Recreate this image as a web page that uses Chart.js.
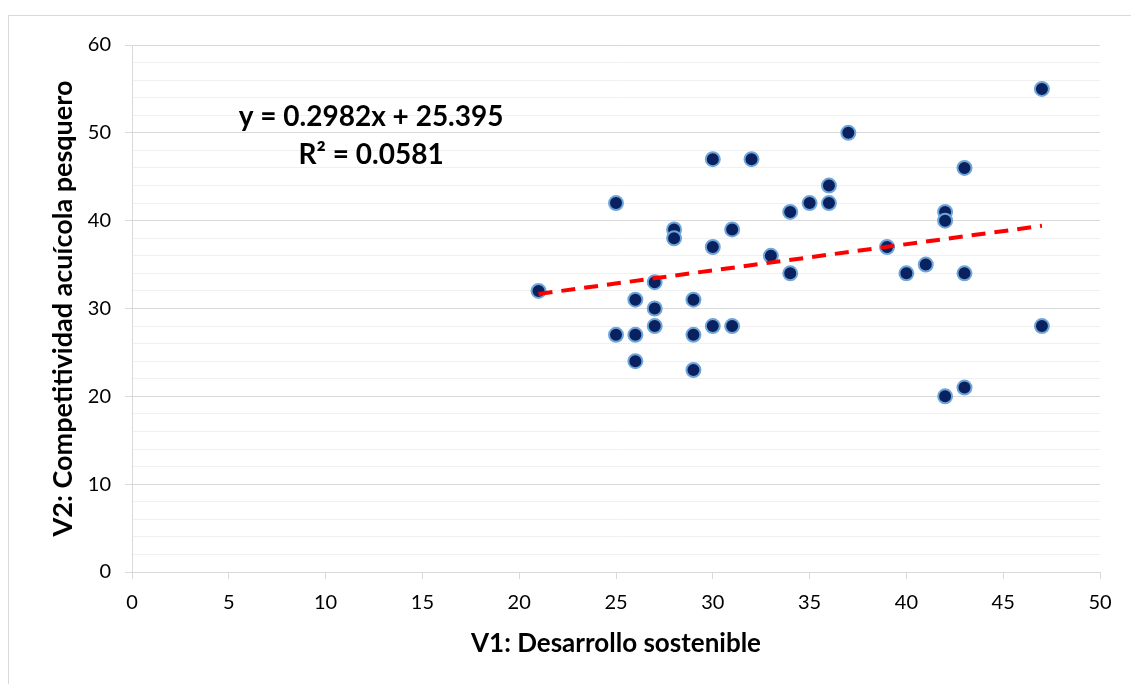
<!DOCTYPE html>
<html>
<head>
<meta charset="utf-8">
<script src="https://cdn.jsdelivr.net/npm/chart.js@4/dist/chart.umd.min.js"></script>
<style>
html,body{margin:0;padding:0;background:#fff;}
#wrap{width:1131px;height:684px;position:relative;}
</style>
</head>
<body>
<div id="wrap"><canvas id="c" width="1131" height="684"></canvas></div>
<script>
// Data
const v1 = [21,25,25,26,26,26,27,27,27,28,28,29,29,29,30,30,30,31,31,32,33,34,34,35,36,36,37,39,40,41,42,42,42,43,43,43,47,47];
const v2 = [32,42,27,31,27,24,33,30,28,39,38,31,27,23,47,37,28,39,28,47,36,41,34,42,44,42,50,37,34,35,41,40,20,46,34,21,55,28];
const trendSlope = [0.2982];
const trendIntercept = [25.395];
const trendRange = [21, 47];
const equationLines = ['y = 0.2982x + 25.395', 'R² = 0.0581'];
const xTitle = 'V1: Desarrollo sostenible';
const yTitle = 'V2: Competitividad acuícola pesquero';

const FONT = 'Lato, "Open Sans", "DejaVu Sans", sans-serif';

const points = v1.map((x, i) => ({x: x, y: v2[i]}));
const trend = trendRange.map(x => ({x: x, y: trendSlope[0] * x + trendIntercept[0]}));

const framePlugin = {
  id: 'frame',
  beforeDraw(chart) {
    const ctx = chart.ctx;
    ctx.save();
    ctx.fillStyle = '#ffffff';
    ctx.fillRect(0, 0, chart.width, chart.height);
    ctx.strokeStyle = '#d9d9d9';
    ctx.lineWidth = 1;
    ctx.strokeRect(8.5, 15.5, chart.width + 20, chart.height + 20);
    ctx.restore();
  }
};

const eqPlugin = {
  id: 'eq',
  afterDraw(chart) {
    const ctx = chart.ctx;
    const xs = chart.scales.x, ys = chart.scales.y;
    const cx = xs.getPixelForValue(12.35);
    ctx.save();
    ctx.fillStyle = '#000';
    ctx.font = 'bold 28px ' + FONT;
    ctx.textAlign = 'center';
    ctx.textBaseline = 'middle';
    ctx.fillText(equationLines[0], cx, ys.getPixelForValue(51.8));
    ctx.fillText(equationLines[1], cx, ys.getPixelForValue(47.5));
    ctx.restore();
  }
};

new Chart(document.getElementById('c'), {
  type: 'scatter',
  data: {
    datasets: [
      {
        type: 'line',
        label: 'Tendencia',
        data: trend,
        borderColor: '#ff0000',
        borderWidth: 4,
        borderDash: [14, 9],
        pointRadius: 0,
        fill: false,
        order: 0
      },
      {
        label: 'V2',
        data: points,
        backgroundColor: '#0a2160',
        borderColor: '#6fa6da',
        borderWidth: 2,
        pointRadius: 7,
        pointHoverRadius: 7,
        order: 1
      }
    ]
  },
  plugins: [framePlugin, eqPlugin],
  options: {
    responsive: false,
    animation: false,
    events: [],
    layout: {padding: {left: 0, top: 45, right: 31, bottom: 0}},
    plugins: {legend: {display: false}, tooltip: {enabled: false}},
    scales: {
      x: {
        type: 'linear',
        min: 0, max: 50,
        afterFit(s) { s.height = 112; },
        ticks: {stepSize: 5, color: '#000', font: {family: FONT, size: 20}, padding: 12},
        grid: {drawOnChartArea: false, drawTicks: true, tickLength: 7, tickColor: '#d9d9d9'},
        border: {color: '#d9d9d9', width: 1},
        title: {display: true, text: xTitle, color: '#000', font: {family: FONT, size: 26, weight: 'bold'}, padding: {top: 0, bottom: 25}}
      },
      y: {
        type: 'linear',
        min: 0, max: 60,
        afterFit(s) { s.width = 132; },
        ticks: {
          stepSize: 2, autoSkip: false, color: '#000',
          font: {family: FONT, size: 20}, padding: 14,
          callback: v => (v % 10 === 0 ? String(v) : '')
        },
        grid: {
          drawTicks: true, tickLength: 7,
          color: c => (c.tick && c.tick.value % 10 === 0 ? '#d9d9d9' : '#f0f0f0'),
          tickColor: c => (c.tick && c.tick.value % 10 === 0 ? '#d9d9d9' : 'rgba(0,0,0,0)'),
          lineWidth: 1
        },
        border: {color: '#d9d9d9', width: 1},
        title: {display: true, text: yTitle, color: '#000', font: {family: FONT, size: 27, weight: 'bold'}, padding: {top: 47, bottom: 0}}
      }
    }
  }
});
</script>
</body>
</html>
